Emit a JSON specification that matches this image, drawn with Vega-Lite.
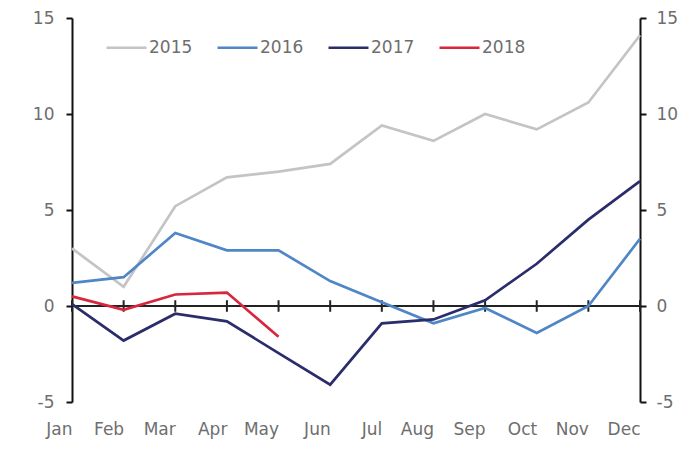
{
  "$schema": "https://vega.github.io/schema/vega-lite/v6.json",
  "autosize": "none",
  "padding": {"left": 72, "top": 18, "right": 43, "bottom": 47},
  "width": 568,
  "height": 384,
  "background": "white",
  "config": {
    "view": {"stroke": null},
    "font": "DejaVu Sans",
    "axis": {"labelFont": "DejaVu Sans", "labelFontSize": 17, "labelColor": "#6e6e6e", "grid": false, "title": null},
    "legend": {"labelFont": "DejaVu Sans", "labelFontSize": 17, "labelColor": "#6e6e6e"}
  },
  "datasets": {
    "series": [
      {"month": "Jan", "year": "2015", "value": 3.0},
      {"month": "Feb", "year": "2015", "value": 1.0},
      {"month": "Mar", "year": "2015", "value": 5.2},
      {"month": "Apr", "year": "2015", "value": 6.7},
      {"month": "May", "year": "2015", "value": 7.0},
      {"month": "Jun", "year": "2015", "value": 7.4},
      {"month": "Jul", "year": "2015", "value": 9.4},
      {"month": "Aug", "year": "2015", "value": 8.6},
      {"month": "Sep", "year": "2015", "value": 10.0},
      {"month": "Oct", "year": "2015", "value": 9.2},
      {"month": "Nov", "year": "2015", "value": 10.6},
      {"month": "Dec", "year": "2015", "value": 14.1},
      {"month": "Jan", "year": "2016", "value": 1.2},
      {"month": "Feb", "year": "2016", "value": 1.5},
      {"month": "Mar", "year": "2016", "value": 3.8},
      {"month": "Apr", "year": "2016", "value": 2.9},
      {"month": "May", "year": "2016", "value": 2.9},
      {"month": "Jun", "year": "2016", "value": 1.3},
      {"month": "Jul", "year": "2016", "value": 0.2},
      {"month": "Aug", "year": "2016", "value": -0.9},
      {"month": "Sep", "year": "2016", "value": -0.1},
      {"month": "Oct", "year": "2016", "value": -1.4},
      {"month": "Nov", "year": "2016", "value": 0.0},
      {"month": "Dec", "year": "2016", "value": 3.5},
      {"month": "Jan", "year": "2017", "value": 0.1},
      {"month": "Feb", "year": "2017", "value": -1.8},
      {"month": "Mar", "year": "2017", "value": -0.4},
      {"month": "Apr", "year": "2017", "value": -0.8},
      {"month": "May", "year": "2017", "value": -2.45},
      {"month": "Jun", "year": "2017", "value": -4.1},
      {"month": "Jul", "year": "2017", "value": -0.9},
      {"month": "Aug", "year": "2017", "value": -0.7},
      {"month": "Sep", "year": "2017", "value": 0.3},
      {"month": "Oct", "year": "2017", "value": 2.2},
      {"month": "Nov", "year": "2017", "value": 4.5},
      {"month": "Dec", "year": "2017", "value": 6.5},
      {"month": "Jan", "year": "2018", "value": 0.5},
      {"month": "Feb", "year": "2018", "value": -0.2},
      {"month": "Mar", "year": "2018", "value": 0.6},
      {"month": "Apr", "year": "2018", "value": 0.7},
      {"month": "May", "year": "2018", "value": -1.6}
    ],
    "months": [
      {"month": "Jan"}, {"month": "Feb"}, {"month": "Mar"}, {"month": "Apr"},
      {"month": "May"}, {"month": "Jun"}, {"month": "Jul"}, {"month": "Aug"},
      {"month": "Sep"}, {"month": "Oct"}, {"month": "Nov"}, {"month": "Dec"}
    ]
  },
  "layer": [
    {
      "layer": [
        {
          "data": {"name": "months"},
          "mark": {"type": "rule", "color": "#222222", "strokeWidth": 2},
          "encoding": {
            "y": {"datum": 0, "type": "quantitative", "scale": {"domain": [-5, 15], "nice": false, "zero": false}}
          }
        },
        {
          "data": {"name": "months"},
          "mark": {"type": "rule", "color": "#222222", "strokeWidth": 2},
          "encoding": {
            "x": {"field": "month", "type": "ordinal", "sort": null},
            "y": {"datum": -0.3, "type": "quantitative"},
            "y2": {"datum": 0.3}
          }
        },
        {
          "data": {"name": "series"},
          "mark": {"type": "line", "strokeWidth": 2.7},
          "encoding": {
            "x": {
              "field": "month", "type": "ordinal",
              "sort": ["Jan", "Feb", "Mar", "Apr", "May", "Jun", "Jul", "Aug", "Sep", "Oct", "Nov", "Dec"],
              "scale": {"type": "point", "padding": 0,
                "domain": ["Jan", "Feb", "Mar", "Apr", "May", "Jun", "Jul", "Aug", "Sep", "Oct", "Nov", "Dec"]},
              "axis": {"orient": "bottom", "domain": false, "ticks": false, "labelPadding": 27, "labelAngle": 0}
            },
            "y": {
              "field": "value", "type": "quantitative",
              "scale": {"domain": [-5, 15], "nice": false, "zero": false},
              "axis": {"orient": "left", "values": [-5, 0, 5, 10, 15], "domainColor": "#111111", "domainWidth": 2,
                "tickColor": "#111111", "tickWidth": 2, "tickSize": 6, "labelPadding": 12,
                "labelExpr": "replace(datum.label, '\u2212', '-')"}
            },
            "color": {
              "field": "year", "type": "nominal",
              "scale": {"domain": ["2015", "2016", "2017", "2018"], "range": ["#c4c4c4", "#4f86c6", "#2a2c6b", "#d7263d"]},
              "legend": {
                "title": null, "orient": "none", "direction": "horizontal", "legendX": 33, "legendY": 8,
                "symbolType": "stroke", "symbolSize": 1600, "symbolStrokeWidth": 2.7, "labelOffset": 1,
                "columnPadding": 19
              }
            }
          }
        }
      ]
    },
    {
      "data": {"name": "series"},
      "mark": {"type": "line", "opacity": 0},
      "encoding": {
        "x": {"field": "month", "type": "ordinal", "sort": null},
        "y": {
          "field": "value", "type": "quantitative",
          "scale": {"domain": [-5, 15], "nice": false, "zero": false},
          "axis": {"orient": "right", "values": [-5, 0, 5, 10, 15], "domainColor": "#111111", "domainWidth": 2,
            "tickColor": "#111111", "tickWidth": 2, "tickSize": 6, "labelPadding": 10,
            "labelExpr": "replace(datum.label, '\u2212', '-')"}
        },
        "detail": {"field": "year"}
      }
    }
  ],
  "resolve": {"scale": {"y": "independent"}}
}
